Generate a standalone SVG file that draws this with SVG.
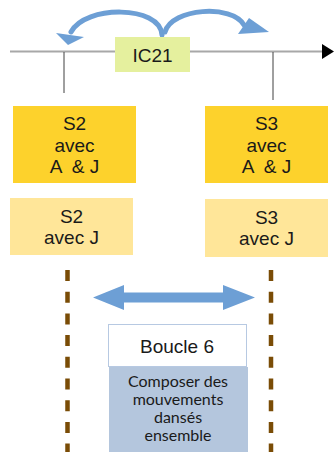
<svg xmlns="http://www.w3.org/2000/svg" width="334" height="452" viewBox="0 0 334 452">
<style>
.t{font-family:"Liberation Sans",Arial,sans-serif;font-size:19px;fill:#1a1a1a;text-anchor:middle;white-space:pre}
.c{font-family:Lato,"Open Sans",sans-serif;font-size:16px;fill:#1a1a1a;text-anchor:middle}
.dark{fill:#fdd22c}
.light{fill:#ffe699}
.arc{fill:none;stroke:#6d9fd5;stroke-width:5;stroke-linecap:round}
.head{fill:#6d9fd5}
.dots{stroke:#7a4c06;stroke-width:4.5;stroke-dasharray:11 10.7}
</style>
<rect width="334" height="452" fill="#ffffff"/>
<g id="connectors">
  <line x1="10" y1="51.5" x2="324" y2="51.5" stroke="#a8a8a8" stroke-width="2"/>
  <polygon points="322,44 334,51.5 322,59" fill="#000000"/>
  <line x1="64" y1="52" x2="64" y2="93" stroke="#404040" stroke-width="1"/>
  <line x1="273" y1="52" x2="273" y2="100" stroke="#404040" stroke-width="1"/>
  <path class="arc" d="M162,35 C160,5 85,5 71,32"/>
  <polygon class="head" points="56,33 84,37 68,45"/>
  <path class="arc" d="M165,32 C172,8 232,4 244,25"/>
  <polygon class="head" points="249,18 238,34 269,32"/>
  <line class="dots" x1="67.5" y1="270" x2="67.5" y2="452"/>
  <line class="dots" x1="271" y1="270" x2="271" y2="452"/>
  <polygon class="head" points="93,297.5 124,285 124,292.5 223,292.5 223,285 255,297.5 223,310 223,302.5 124,302.5 124,310"/>
</g>
<g id="ic21">
  <rect x="115" y="37" width="75" height="35" fill="#e5f09e"/>
  <text class="t" x="152.5" y="61.5">IC21</text>
</g>
<g id="s2-aj">
  <rect class="dark" x="13" y="106" width="123" height="77"/>
  <text class="t" x="74.5" y="130">S2</text>
  <text class="t" x="74.5" y="151.5">avec</text>
  <text class="t" x="74.5" y="173">A  &amp; J</text>
</g>
<g id="s3-aj">
  <rect class="dark" x="205" y="106" width="123" height="77"/>
  <text class="t" x="266.5" y="130">S3</text>
  <text class="t" x="266.5" y="151.5">avec</text>
  <text class="t" x="266.5" y="173">A  &amp; J</text>
</g>
<g id="s2-j">
  <rect class="light" x="10" y="198" width="123" height="57"/>
  <text class="t" x="71.5" y="222.5">S2</text>
  <text class="t" x="71.5" y="244">avec J</text>
</g>
<g id="s3-j">
  <rect class="light" x="205" y="199" width="123" height="58"/>
  <text class="t" x="266.5" y="223.5">S3</text>
  <text class="t" x="266.5" y="245">avec J</text>
</g>
<g id="boucle6">
  <rect x="108.5" y="324.5" width="138" height="42" fill="#ffffff" stroke="#b7c9e2" stroke-width="1"/>
  <text class="t" x="177" y="352.5">Boucle 6</text>
</g>
<g id="composer">
  <rect x="109" y="367" width="139" height="85" fill="#b4c6dd"/>
  <text class="c" x="178" y="387">Composer des</text>
  <text class="c" x="178" y="405">mouvements</text>
  <text class="c" x="178" y="423">dansés</text>
  <text class="c" x="178" y="441">ensemble</text>
</g>
</svg>
